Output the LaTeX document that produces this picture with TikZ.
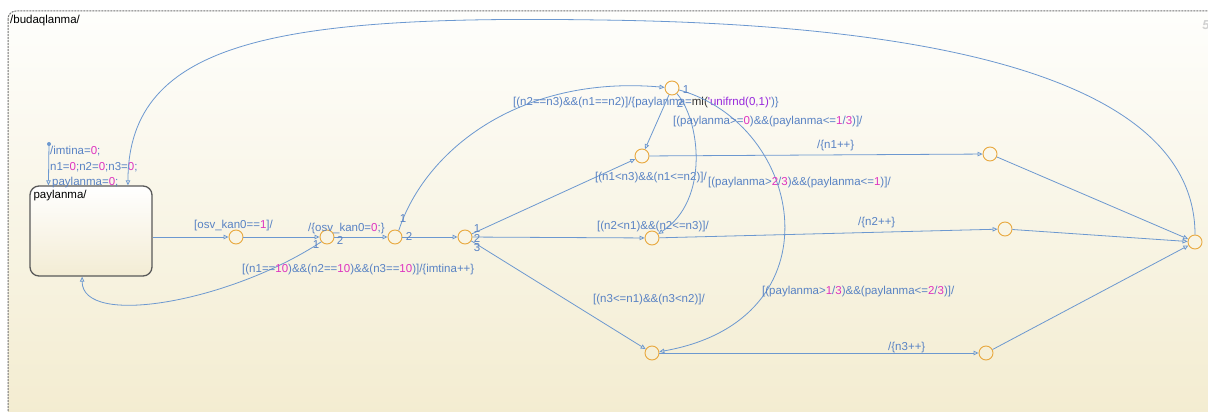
\documentclass[tikz,border=0pt]{standalone}
\usepackage{fontspec}
\setmainfont{Liberation Sans}
\usepackage{xcolor}
\usetikzlibrary{
    arrows.meta,
    calc,
    positioning
}
\definecolor{sfline}{RGB}{108,152,208}
\definecolor{sftext}{RGB}{88,130,196}
\definecolor{sfnum}{RGB}{222,52,192}
\definecolor{sfstr}{RGB}{150,40,220}
\definecolor{sfjunc}{RGB}{232,168,62}
\definecolor{sfstate}{RGB}{243,236,212}
\definecolor{sfchartT}{RGB}{254,254,252}
\definecolor{sfchartB}{RGB}{243,236,208}
\newcommand{\cn}[1]{\textcolor{sfnum}{#1}}

\begin{document}
\begin{tikzpicture}[x=1pt, y=-1pt,
    chart/.style={draw=black!55, dash pattern=on 2pt off 1pt, line width=1pt,
        rounded corners=8pt, top color=sfchartT, bottom color=sfchartB},
    state/.style={draw=black!65, line width=1.3pt, rounded corners=9pt,
        minimum width=122pt, minimum height=90pt, top color=white, bottom color=sfstate},
    junc/.style={circle, draw=sfjunc, line width=0.9pt, minimum size=14pt, inner sep=0pt},
    trans/.style={draw=sfline, line width=0.8pt, -{Triangle[open, length=5pt, width=4.5pt]}},
    sflabel/.style={text=sftext, anchor=west, inner sep=0pt, font=\fontsize{11.5}{13}\selectfont},
    branch/.style={text=sftext, inner sep=0pt, font=\fontsize{11.5}{13}\selectfont}]
    \useasboundingbox (0,0) rectangle (1208,412);
    \clip (0,0) rectangle (1208,412);
    \fill[white] (0,0) rectangle (1208,412);
    \draw[chart] (8,11) rectangle (1216,420);
    \node[anchor=west, inner sep=0pt, font=\fontsize{11.5}{13}\selectfont] at (10,21) {/budaqlanma/};
    \node[font=\bfseries\itshape\fontsize{13}{15}\selectfont, text=black!18] at (1206,25) {5};

    \node[state] (paylanma) at (91,231) {};
    \node[anchor=north west, inner sep=0pt, font=\fontsize{11.5}{13}\selectfont] at ($(paylanma.north west)+(4,5)$) {paylanma/};

    \node[junc] (jkan1) at (236,237) {};
    \node[junc] (jkan0) at (327,237) {};
    \node[junc] (jeq) at (395,237) {};
    \node[junc] (jmin) at (465,237) {};
    \node[junc] (jrnd) at (672,88) {};
    \node[junc] (jn1) at (642,156) {};
    \node[junc] (jn2) at (652,238) {};
    \node[junc] (jn3) at (652,353) {};
    \node[junc] (jn1inc) at (990,154) {};
    \node[junc] (jn2inc) at (1005,229) {};
    \node[junc] (jn3inc) at (986,353) {};
    \node[junc] (jend) at (1195,242) {};

    \coordinate (dflt) at (49,144);
    \fill[sfline] (dflt) circle (2);
    \draw[trans] (dflt) -- (paylanma.133);
    \node[sflabel] at (50,151) {/imtina=\cn{0};};
    \node[sflabel] at (50,167) {n1=\cn{0};n2=\cn{0};n3=\cn{0};};
    \node[sflabel] at (52,183) {paylanma=\cn{0};};

    \draw[trans] (paylanma.east |- jkan1) -- (jkan1);
    \node[sflabel] at (194,226) {[osv\_kan0==\cn{1}]/};
    \draw[trans] (jkan1) -- (jkan0);
    \draw[trans] (jkan0) -- (jeq);
    \node[sflabel] at (308,229) {/\{osv\_kan0=\cn{0};\}};
    \draw[trans] (jkan0.220) .. controls (230,302) and (82,328) .. (paylanma.259);
    \node[sflabel] at (242,270) {[(n1==\cn{10})\&\&(n2==\cn{10})\&\&(n3==\cn{10})]/\{imtina++\}};
    \node[branch] at (316,245) {1};
    \node[branch] at (340,240) {2};

    \draw[trans] (jeq) -- (jmin);
    \draw[trans] (jeq.60) .. controls (425,150) and (520,75) .. (jrnd);
    \node[sflabel] at (513,103) {[(n2==n3)\&\&(n1==n2)]/\{paylanma=\textcolor{black!80}{ml(}\textcolor{sfstr}{\textquotesingle unifrnd(0,1)\textquotesingle})\}};
    \node[branch] at (403,219) {1};
    \node[branch] at (409,236) {2};

    \draw[trans] (jmin) -- (jn1);
    \draw[trans] (jmin) -- (jn2);
    \draw[trans] (jmin) -- (jn3);
    \node[sflabel] at (595,178) {[(n1<n3)\&\&(n1<=n2)]/};
    \node[sflabel] at (597,227) {[(n2<n1)\&\&(n2<=n3)]/};
    \node[sflabel] at (593,300) {[(n3<=n1)\&\&(n3<n2)]/};
    \node[branch] at (477,229) {1};
    \node[branch] at (477,238) {2};
    \node[branch] at (477,248) {3};

    \draw[trans] (jrnd) -- (jn1);
    \draw[trans] (jrnd) .. controls (700,120) and (710,200) .. (jn2);
    \draw[trans] (jrnd) .. controls (805,125) and (840,320) .. (jn3);
    \node[sflabel] at (673,122) {[(paylanma>=\cn{0})\&\&(paylanma<=\cn{1}/\cn{3})]/};
    \node[sflabel] at (708,183) {[(paylanma>\cn{2}/\cn{3})\&\&(paylanma<=\cn{1})]/};
    \node[sflabel] at (762,292) {[(paylanma>\cn{1}/\cn{3})\&\&(paylanma<=\cn{2}/\cn{3})]/};
    \node[branch] at (686,90) {1};
    \node[branch] at (680,103) {2};

    \draw[trans] (jn1) -- (jn1inc);
    \draw[trans] (jn2) -- (jn2inc);
    \draw[trans] (jn3) -- (jn3inc);
    \node[sflabel] at (817,146) {/\{n1++\}};
    \node[sflabel] at (858,223) {/\{n2++\}};
    \node[sflabel] at (888,348) {/\{n3++\}};

    \draw[trans] (jn1inc) -- (jend);
    \draw[trans] (jn2inc) -- (jend);
    \draw[trans] (jn3inc) -- (jend);
    \draw[trans] (jend.north) .. controls (1195,100) and (1000,25) .. (600,20)
        .. controls (280,15) and (128,40) .. (paylanma.51);
\end{tikzpicture}
\end{document}
